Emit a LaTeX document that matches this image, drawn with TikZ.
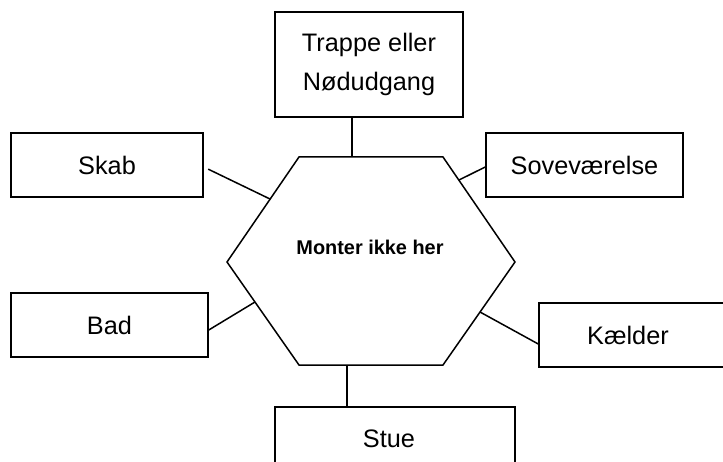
\documentclass[tikz,border=0pt]{standalone}
\usepackage{fontspec}
\setmainfont{Liberation Sans}
\usetikzlibrary{calc}
\begin{document}
\begin{tikzpicture}[x=1pt,y=-1pt,
  box/.style={draw,line width=1.5pt,inner sep=0pt,align=center,font=\fontsize{25.3}{39}\selectfont},
  link/.style={line width=1.5pt},
  hexline/.style={line width=1.5pt,line join=miter}]
\useasboundingbox (0,0) rectangle (723,462);
\clip (0,0) rectangle (723,462);
% boxes
\node[box,minimum width=188pt,minimum height=105pt] (trappe) at (369,64.5) {Trappe eller\\Nødudgang};
\node[box,minimum width=192pt,minimum height=64pt] (skab) at (107,165) {Skab};
\node[box,minimum width=197pt,minimum height=64pt] (sove) at (584.5,165) {Soveværelse};
\node[box,minimum width=197pt,minimum height=64pt] (bad) at (109.5,325) {Bad};
\node[box,minimum width=201pt,minimum height=64pt,text width=201pt] (kaelder) at (639.5,335) {\hspace*{-23pt}Kælder};
\node[box,minimum width=240pt,minimum height=70pt,text width=240pt] (stue) at (395,442) {\raisebox{6pt}{\hspace*{-12pt}Stue}};
% hexagon
\coordinate (h1) at (299,157);
\coordinate (h2) at (443,157);
\coordinate (h3) at (515,262);
\coordinate (h4) at (443,365);
\coordinate (h5) at (299,365);
\coordinate (h6) at (227,262);
\draw[hexline] (h1) -- (h2) -- (h3) -- (h4) -- (h5) -- (h6) -- cycle;
\node[font=\bfseries\fontsize{19.9}{24}\selectfont] (hex) at (370,247) {Monter ikke her};
% attachment points on the hexagon
\coordinate (pT) at (352,157);
\coordinate (pSk) at (270,199);
\coordinate (pSo) at (459,180);
\coordinate (pB) at (255,302);
\coordinate (pK) at (480,312);
\coordinate (pSt) at (347,365);
% connectors
\draw[link] (trappe.south -| pT) -- (pT);
\draw[link,shorten <=5pt] ($(skab.east)+(0,2)$) -- (pSk);
\draw[link] ($(sove.west)+(0,2)$) -- (pSo);
\draw[link] ($(bad.east)+(0,5)$) -- (pB);
\draw[link] ($(kaelder.west)+(0,9)$) -- (pK);
\draw[link] (pSt) -- (stue.north -| pSt);
\end{tikzpicture}
\end{document}
